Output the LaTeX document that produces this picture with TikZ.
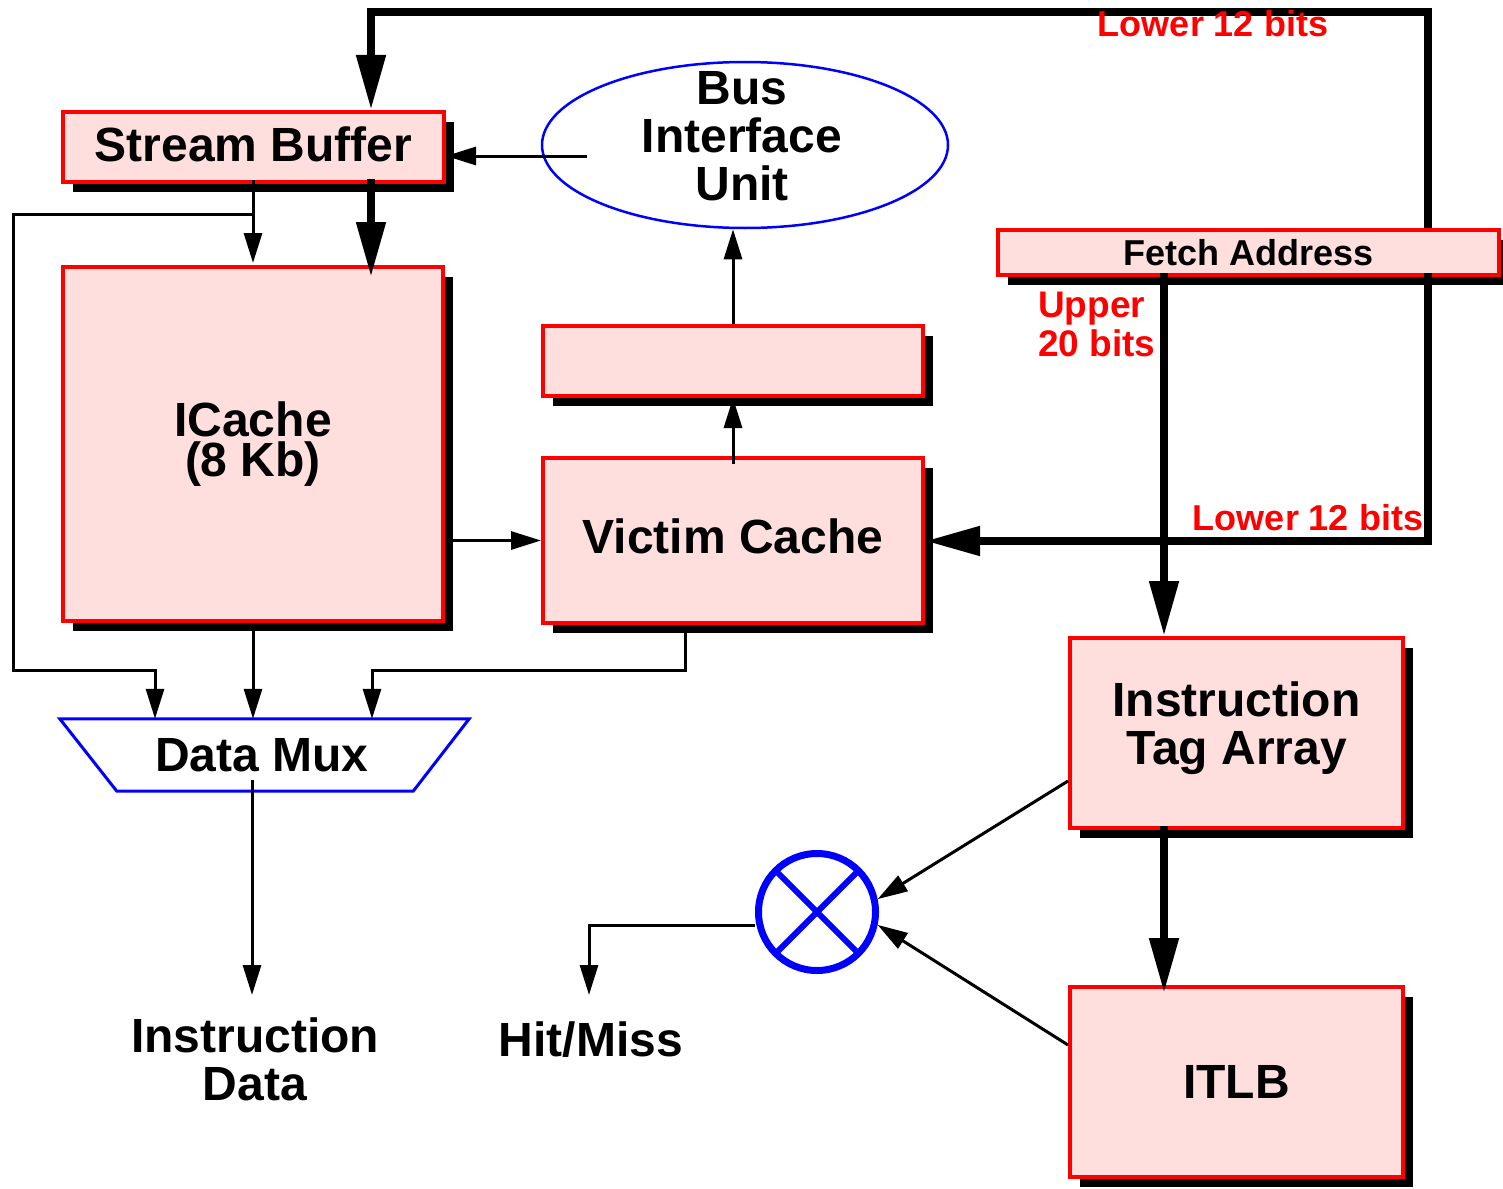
\documentclass[tikz,border=0pt]{standalone}
\usepackage{fontspec}
\setmainfont{Liberation Sans}
\usetikzlibrary{arrows.meta,shadows,shapes.geometric}
\definecolor{boxpink}{RGB}{255,222,222}

\tikzset{
  unit/.style={draw=red, line width=4pt, fill=boxpink, inner sep=0pt, align=center,
    font=\bfseries\fontsize{48}{48}\selectfont,
    drop shadow={shadow xshift=10pt, shadow yshift=-10pt, fill=black, opacity=1}},
  wire/.style={line width=3pt},
  wirearrow/.style={wire, -{Triangle[length=30pt,width=18pt]}},
  bus/.style={line width=8pt},
  busarrow/.style={bus, -{Triangle[length=55pt,width=28pt]}},
  biglabel/.style={font=\bfseries\fontsize{48}{48}\selectfont, align=center, inner sep=0pt},
  bitlabel/.style={text=red, font=\bfseries\fontsize{36}{39}\selectfont, inner sep=0pt},
}

\begin{document}
\begin{tikzpicture}[x=1pt,y=-1pt]
\fill[white] (0,0) rectangle (1503,1188);
\useasboundingbox (0,0) rectangle (1503,1188);

% functional blocks
\node[unit, minimum width=381pt, minimum height=70pt, text depth=5pt] (sb) at (253.5,147) {Stream Buffer};
\node[unit, minimum width=380pt, minimum height=354pt,
      font=\bfseries\fontsize{48}{40}\selectfont] (ic) at (253,444) {ICache\\(8 Kb)};
\node[unit, minimum width=380pt, minimum height=165pt, text depth=9pt] (vc) at (733,540.5) {Victim Cache};
\node[unit, minimum width=380pt, minimum height=70pt] (mb) at (733,361) {};
\node[unit, minimum width=501pt, minimum height=45pt,
      font=\bfseries\fontsize{36}{36}\selectfont] (fa) at (1248.5,252.5) {Fetch Address};
\node[unit, minimum width=333pt, minimum height=190pt, text depth=20pt] (ita) at (1236.5,733) {Instruction\\Tag Array};
\node[unit, minimum width=333pt, minimum height=190pt] (itlb) at (1236.5,1082) {ITLB};

% bus interface unit
\node[ellipse, draw=blue, line width=2.5pt, minimum width=406pt, minimum height=166pt,
      inner sep=0pt] (biu) at (745,145) {};
\node[biglabel] (biutext) at (742,136) {Bus\\Interface\\Unit};

% data multiplexer
\node[minimum width=409pt, minimum height=72pt, inner sep=0pt] (mux) at (264.5,755) {};
\draw[blue, line width=3pt, line join=miter]
  (mux.north west) -- (mux.north east) -- ([xshift=-56pt]mux.south east)
  -- ([xshift=57pt]mux.south west) -- cycle;
\node[biglabel] (muxtext) at (262,755) {Data Mux};

% tag comparator
\node[circle, draw=blue, line width=7pt, minimum size=117pt, inner sep=0pt] (cmp) at (817,912) {};
\draw[blue, line width=6pt, shorten >=7pt, shorten <=7pt] (cmp.north west) -- (cmp.south east);
\draw[blue, line width=6pt, shorten >=7pt, shorten <=7pt] (cmp.north east) -- (cmp.south west);

% outputs
\node[biglabel] (idata) at (255,1059) {Instruction\\Data};
\node[biglabel] (hit) at (591,1040) {Hit/Miss};

% routing points
\coordinate (topR) at (1428,12);
\coordinate (topL) at (371,12);
\coordinate (lb) at (13,670);
\coordinate (mxa) at (155,670);
\coordinate (vcb) at (685,670);
\coordinate (mxc) at (372,670);
\coordinate (outt) at (252,995);
\coordinate (biuin) at (587,156);
\coordinate (upx) at (1164,0);
\coordinate (lowc) at (1428,541);
\coordinate (hm) at (589,925);
\coordinate (hmt) at (589,995);
\path (ic.north) ++(0,-51) coordinate (br);

% address buses
\draw[busarrow] (topR |- fa.north) -- (topR) -- (topL) -- (topL |- sb.north);
\draw[busarrow] ([yshift=5pt]topL |- sb.south) -- ([yshift=-12pt]topL |- ic.north);
\draw[busarrow] ([yshift=4pt]fa.south -| upx) -- (ita.north -| upx);
\draw[busarrow] ([yshift=4pt]fa.south -| lowc) -- (lowc) -- (vc.east |- lowc);
\draw[busarrow] ([yshift=4pt]ita.south -| upx) -- ([yshift=-8pt]itlb.north -| upx);

% data paths
\draw[wirearrow] ([yshift=4pt]sb.south -| ic.north) -- ([yshift=2pt]ic.north);
\draw[wirearrow] (br) -| (lb) -- (mxa) -- (mxa |- mux.north);
\draw[wirearrow] (ic.south) -- (ic.south |- mux.north);
\draw[wirearrow] (vcb |- vc.south) -- (vcb) -- (mxc) -- (mxc |- mux.north);
\draw[wirearrow] ([yshift=-25pt]mux.center -| outt) -- (outt);
\draw[wirearrow] (ic.east |- vc.west) -- (vc.west);
\draw[wirearrow] ([yshift=-8pt]vc.north) -- (mb.south);
\draw[wirearrow] (mb.north) -- (mb.north |- biu.south);
\draw[wirearrow] (biuin) -- (biuin -| sb.east);
\draw[wirearrow] ([yshift=-48pt]ita.west) -- (cmp.12);
\draw[wirearrow] ([yshift=37pt]itlb.west) -- (cmp.-12);
\draw[wirearrow] (cmp.west |- hm) -- (hm) -- (hmt);

% bit-field labels
\node[bitlabel, anchor=base] (lowtop) at (1213,37) {Lower 12 bits};
\node[bitlabel, anchor=base] (lowmid) at (1308,530) {Lower 12 bits};
\node[bitlabel, align=left, anchor=north west, font=\bfseries\fontsize{37}{39}\selectfont]
  (upper) at (1038,292) {Upper\\20 bits};
\end{tikzpicture}
\end{document}
